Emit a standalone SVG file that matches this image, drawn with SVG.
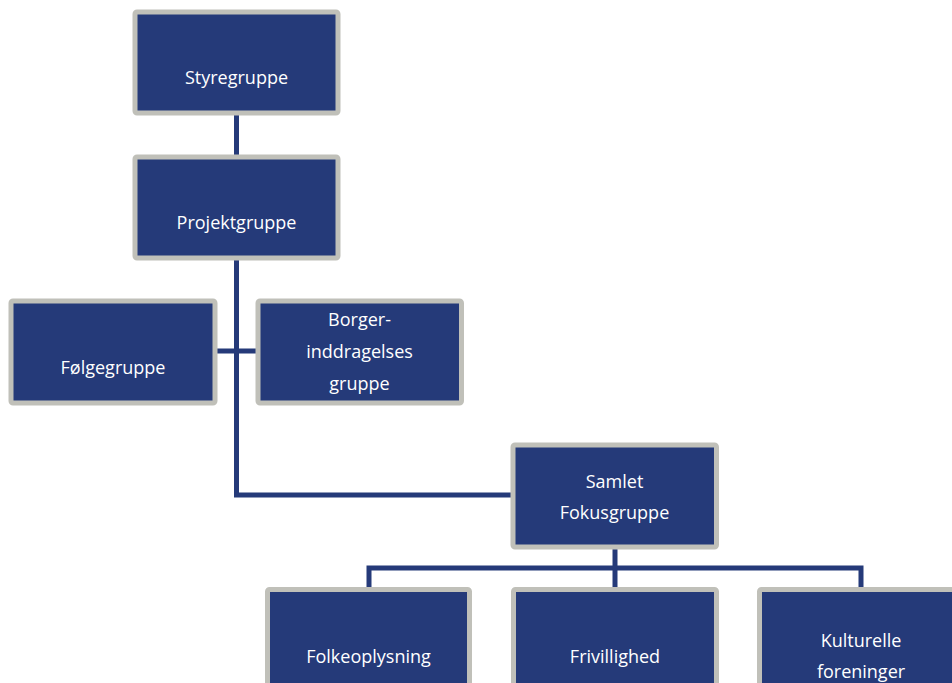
<svg xmlns="http://www.w3.org/2000/svg" width="952" height="683" viewBox="0 0 952 683">
<style>
.box{fill:#253A79;stroke:#C0C0B9;stroke-width:5;}
.lbl{fill:#FFFFFF;font-family:"Open Sans","Noto Sans",sans-serif;font-size:18px;text-anchor:middle;}
.con{fill:none;stroke:#253A79;stroke-width:5;stroke-linejoin:miter;}
</style>
<rect width="952" height="683" fill="#FFFFFF"/>
<g id="connectors">
<path class="con" d="M236.5,113 V157"/>
<path class="con" d="M236.5,258 V495 H513"/>
<path class="con" d="M215,351 H258"/>
<path class="con" d="M615,547 V568"/>
<path class="con" d="M369,589 V568 H861 V589"/>
<path class="con" d="M615,568 V589"/>
</g>
<g id="styregruppe">
<rect class="box" x="135" y="12" width="203" height="101" rx="2"/>
<text class="lbl" x="236.5" y="84">Styregruppe</text>
</g>
<g id="projektgruppe">
<rect class="box" x="135" y="157" width="203" height="101" rx="2"/>
<text class="lbl" x="236.5" y="229">Projektgruppe</text>
</g>
<g id="folgegruppe">
<rect class="box" x="11" y="301" width="204" height="102" rx="2"/>
<text class="lbl" x="113" y="373.5">Følgegruppe</text>
</g>
<g id="borgerinddragelsesgruppe">
<rect class="box" x="258" y="301" width="203.5" height="102" rx="2"/>
<text class="lbl" x="359.5" y="326">Borger-</text>
<text class="lbl" x="359.5" y="358">inddragelses</text>
<text class="lbl" x="359.5" y="389.5">gruppe</text>
</g>
<g id="samlet-fokusgruppe">
<rect class="box" x="513" y="445" width="203.5" height="102" rx="2"/>
<text class="lbl" x="614.5" y="487.5">Samlet</text>
<text class="lbl" x="614.5" y="518.5">Fokusgruppe</text>
</g>
<g id="folkeoplysning">
<rect class="box" x="267.5" y="589.5" width="202" height="120" rx="2"/>
<text class="lbl" x="368.5" y="662.5">Folkeoplysning</text>
</g>
<g id="frivillighed">
<rect class="box" x="513.5" y="589.5" width="203" height="120" rx="2"/>
<text class="lbl" x="615" y="662.5">Frivillighed</text>
</g>
<g id="kulturelle-foreninger">
<rect class="box" x="759.5" y="589.5" width="203" height="120" rx="2"/>
<text class="lbl" x="861" y="646.5">Kulturelle</text>
<text class="lbl" x="861" y="677.5">foreninger</text>
</g>
</svg>
